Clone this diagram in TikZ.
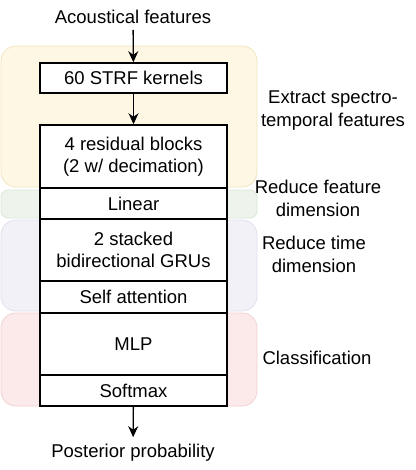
\documentclass[tikz,border=0pt]{standalone}
\usepackage{fontspec}
\setmainfont{Liberation Sans}
\usetikzlibrary{arrows.meta}
\definecolor{yfill}{HTML}{FDF7E4}\definecolor{ydraw}{HTML}{F3E4C0}
\definecolor{gfill}{HTML}{EEF4EC}\definecolor{gdraw}{HTML}{DAE7D6}
\definecolor{pfill}{HTML}{F3F1F8}\definecolor{pdraw}{HTML}{E2DEEE}
\definecolor{rfill}{HTML}{FCE9E9}\definecolor{rdraw}{HTML}{F2D2D2}
\tikzset{
  blk/.style={draw=black, line width=1.5pt, fill=white, minimum width=187pt, inner sep=0pt, align=center, font=\fontsize{18.5}{22.5}\selectfont},
  lbl/.style={align=center, inner sep=3pt, font=\fontsize{18.5}{23}\selectfont},
  grp/.style={line width=0.8pt},
  arr/.style={-{Stealth[length=11pt,width=10pt]}, line width=1.3pt}
}
\begin{document}
\begin{tikzpicture}[x=1pt,y=-1pt]
\useasboundingbox (0,0) rectangle (415,470);
% groups
\draw[grp, fill=yfill, draw=ydraw, rounded corners=15pt] (1,46) rectangle (257,187);
\draw[grp, fill=gfill, draw=gdraw, rounded corners=7pt] (1,190) rectangle (257,218);
\draw[grp, fill=pfill, draw=pdraw, rounded corners=15pt] (1,220) rectangle (257,311);
\draw[grp, fill=rfill, draw=rdraw, rounded corners=15pt] (1,313) rectangle (257,406);
% blocks
\node[blk, minimum height=30pt] (strf) at (133.5,78) {60 STRF kernels};
\node[blk, minimum height=63pt] (res) at (133.5,156.5) {4 residual blocks\\(2 w/ decimation)};
\node[blk, minimum height=31pt] (lin) at (133.5,203.5) {Linear};
\node[blk, minimum height=62pt] (gru) at (133.5,250) {2 stacked\\bidirectional GRUs};
\node[blk, minimum height=32pt] (att) at (133.5,297) {Self attention};
\node[blk, minimum height=62pt] (mlp) at (133.5,344) {MLP};
\node[blk, minimum height=31pt] (soft) at (133.5,390.5) {Softmax};
% in/out
\node[lbl] (in) at (133,17) {Acoustical features};
\node[lbl] (out) at (133,453) {Posterior probability};
\draw[arr, shorten <=3pt] (in) -- (strf);
\draw[arr] (strf) -- (res);
\draw[arr, shorten >=4pt] (soft) -- (out);
% side labels
\node[lbl] (l1) at (333,111) {Extract spectro-\\temporal features};
\node[lbl] (l2) at (318,198) {Reduce feature\\dimension};
\node[lbl] (l3) at (314,254) {Reduce time\\dimension};
\node[lbl] (l4) at (317,358) {Classification};
\end{tikzpicture}
\end{document}
